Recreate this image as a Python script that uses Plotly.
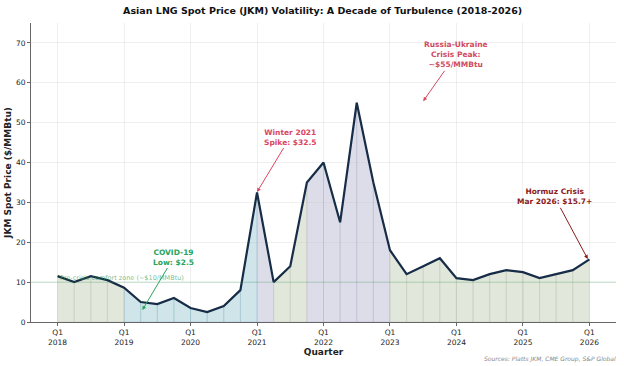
import plotly.graph_objects as go

years = list(range(2018, 2027))
quarters = [f"Q{q} {y}" for y in range(2018, 2026) for q in range(1, 5)] + ["Q1 2026"]
prices = [11.5, 10.0, 11.5, 10.5, 8.6, 5.0, 4.5, 6.0,
          3.5, 2.5, 4.0, 8.0, 32.5, 10.0, 14.0, 35.0,
          40.0, 25.0, 55.0, 35.0, 18.0, 12.0, 14.0, 16.0,
          11.0, 10.5, 12.0, 13.0, 12.5, 11.0, 12.0, 13.0, 15.7]
tick_labels = [f"Q1<br>{y}" for y in years]

idx = list(range(len(prices)))
FONT = "DejaVu Sans"

def seg_colors(v):
    if v < 10:
        return "rgba(120,180,195,0.35)", "rgba(110,165,180,0.35)"
    if v < 20:
        return "rgba(198,208,186,0.50)", "rgba(178,188,166,0.45)"
    return "rgba(188,188,212,0.50)", "rgba(170,170,198,0.45)"

fig = go.Figure()

for i in range(len(prices) - 1):
    fc, lc = seg_colors(prices[i])
    fig.add_trace(go.Scatter(
        x=[idx[i], idx[i + 1], idx[i + 1], idx[i], idx[i]],
        y=[prices[i], prices[i + 1], 0, 0, prices[i]],
        fill="toself", fillcolor=fc, mode="lines",
        line=dict(color=lc, width=0.7), hoverinfo="skip", showlegend=False))

# comfort zone line
fig.add_hline(y=10, line=dict(color="rgba(60,160,90,0.3)", width=1))

fig.add_trace(go.Scatter(x=idx, y=prices, mode="lines",
                         line=dict(color="#162c47", width=2.2),
                         showlegend=False, text=quarters))

def ann(text, x, y, ax, ay, color):
    fig.add_annotation(x=x, y=y, ax=ax, ay=ay, xref="x", yref="y",
                       axref="x", ayref="y", text=text, showarrow=True,
                       arrowhead=2, arrowsize=0.8, arrowwidth=1,
                       arrowcolor=color, standoff=0, startstandoff=0,
                       font=dict(family=FONT, size=7.5, color=color),
                       align="center")

ann("<b>COVID-19<br>Low: $2.5</b>", 5.1, 3.0, 7.0, 16.3, "#27a35a")
ann("<b>Winter 2021<br>Spike: $32.5</b>", 12.0, 32.6, 14.0, 46.4, "#d9455f")
ann("<b>Russia-Ukraine<br>Crisis Peak:<br>~$55/MMBtu</b>", 22.0, 55.4, 23.96, 67.0, "#d04a60")
ann("<b>Hormuz Crisis<br>Mar 2026: $15.7+</b>", 31.9, 15.8, 29.9, 31.4, "#8b1a1a")

fig.add_annotation(x=0, y=9.6, xref="x", yref="y", text="Pre-crisis comfort zone (~$10/MMBtu)",
                   showarrow=False, xanchor="left", yanchor="bottom",
                   font=dict(family=FONT, size=6.5, color="rgba(40,150,80,0.65)"))

fig.add_annotation(x=1, y=0, xref="paper", yref="paper", yshift=-31, xshift=2,
                   text="<i>Sources: Platts JKM, CME Group, S&P Global</i>",
                   showarrow=False, xanchor="right", yanchor="top",
                   font=dict(family=FONT, size=6, color="#888888"))

fig.update_layout(
    width=624, height=366,
    margin=dict(l=31, r=8, t=23, b=44),
    paper_bgcolor="white", plot_bgcolor="white",
    font=dict(family=FONT, size=7.5, color="#222222"),
    title=dict(text="<b>Asian LNG Spot Price (JKM) Volatility: A Decade of Turbulence (2018-2026)</b>",
               x=0.517, xanchor="center", y=0.97, yanchor="middle",
               font=dict(family=FONT, size=9.5, color="#111111")),
    xaxis=dict(range=[-1.6, 33.6], tickvals=[0, 4, 8, 12, 16, 20, 24, 28, 32],
               ticktext=tick_labels, showgrid=True, gridcolor="rgba(0,0,0,0.06)",
               zeroline=False, showline=True, linecolor="#666666", linewidth=1,
               ticks="outside", ticklen=3, tickcolor="#666666", automargin=False,
               title=dict(text="<b>Quarter</b>", font=dict(family=FONT, size=9), standoff=2)),
    yaxis=dict(range=[0, 75], tickvals=[0, 10, 20, 30, 40, 50, 60, 70],
               showgrid=True, gridcolor="rgba(0,0,0,0.06)", zeroline=False,
               showline=True, linecolor="#666666", linewidth=1,
               ticks="outside", ticklen=3, tickcolor="#666666", automargin=False,
               title=dict(text="<b>JKM Spot Price ($/MMBtu)</b>", font=dict(family=FONT, size=9), standoff=2)),
)

fig.write_html("out.html", config={"displayModeBar": False},
               post_script="document.body.style.margin='0';document.body.style.overflow='hidden';")
